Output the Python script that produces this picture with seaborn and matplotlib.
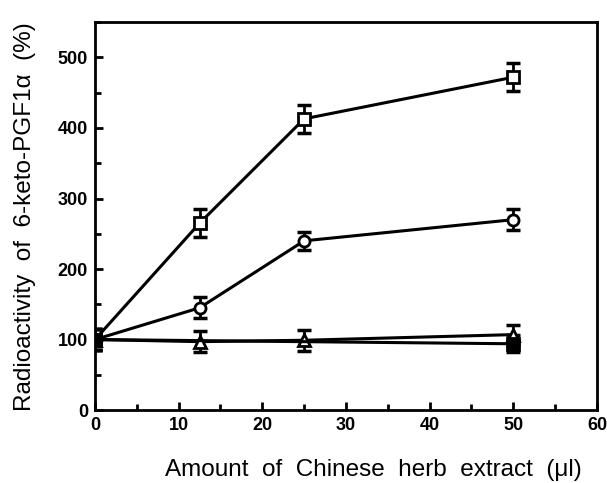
import matplotlib
matplotlib.use("Agg")
import matplotlib.pyplot as plt
import seaborn as sns
import pandas as pd
from matplotlib.ticker import MultipleLocator

# Dose-response of 6-keto-PGF1alpha radioactivity to herb extract
dose = [0, 12.5, 25, 50]
sq_open = [100, 265, 413, 472]
sq_open_err = [15, 20, 20, 20]
circ_open = [100, 145, 240, 270]
circ_open_err = [15, 15, 13, 15]
tri_open = [100, 97, 99, 107]
tri_open_err = [15, 15, 15, 13]
dose_filled = [0, 50]
sq_filled = [100, 94]
sq_filled_err = [15, 12]

x_ticks = [0, 10, 20, 30, 40, 50, 60]
y_ticks = [0, 100, 200, 300, 400, 500]

sns.set_theme(style="ticks")
plt.rcParams["font.family"] = ["Liberation Sans", "DejaVu Sans"]
plt.rcParams["text.color"] = "black"
plt.rcParams["axes.labelcolor"] = "black"
plt.rcParams["xtick.color"] = "black"
plt.rcParams["ytick.color"] = "black"

fig = plt.figure(figsize=(6.07, 4.83), dpi=100)
ax = fig.add_axes([0.1565, 0.151, 0.827, 0.803])

series = [
    (dose, tri_open, tri_open_err, "^", "white"),
    (dose, circ_open, circ_open_err, "o", "white"),
    (dose, sq_open, sq_open_err, "s", "white"),
    (dose_filled, sq_filled, sq_filled_err, "s", "black"),
]
for xs, ys, es, mk, fc in series:
    df = pd.DataFrame({"x": xs, "y": ys})
    ax.errorbar(xs, ys, yerr=es, fmt="none", ecolor="black",
                elinewidth=2, capsize=5, capthick=2.5, zorder=2)
    sns.lineplot(data=df, x="x", y="y", ax=ax, color="black", lw=2.2,
                 marker=mk, markersize=8, markerfacecolor=fc,
                 markeredgecolor="black", markeredgewidth=2, zorder=3)

ax.set_xlim(0, 60)
ax.set_ylim(0, 550)
ax.set_xticks(x_ticks)
ax.set_yticks(y_ticks)
ax.xaxis.set_minor_locator(MultipleLocator(5))
ax.yaxis.set_minor_locator(MultipleLocator(50))
ax.tick_params(which="major", direction="in", length=6, width=2,
               labelsize=13, pad=5, colors="black")
ax.tick_params(which="minor", direction="in", length=4, width=2,
               colors="black")
for lab in ax.get_xticklabels() + ax.get_yticklabels():
    lab.set_fontweight("bold")
for sp in ax.spines.values():
    sp.set_linewidth(2)
    sp.set_color("black")

ax.set_xlabel("Amount  of  Chinese  herb  extract  (\u03bcl)", fontsize=17.5,
              labelpad=18, color="black")
ax.xaxis.set_label_coords(0.555, -0.125)
ax.set_ylabel("Radioactivity  of  6-keto-PGF1\u03b1  (%)", fontsize=17.5,
              labelpad=16, color="black")

fig.savefig("out.png", dpi=100, facecolor="white")
